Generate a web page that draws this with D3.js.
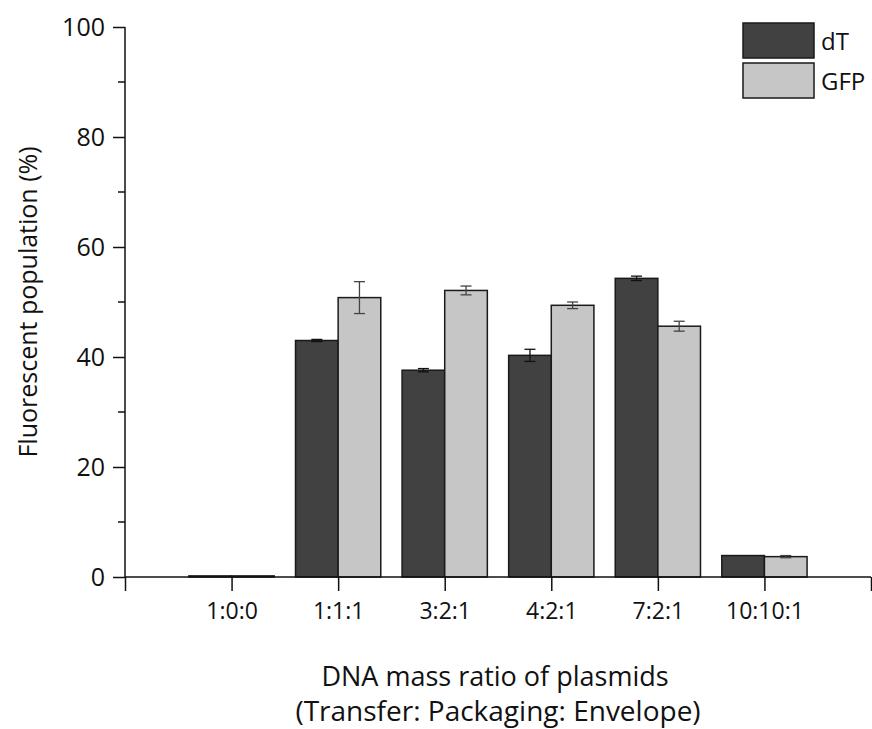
<!DOCTYPE html>
<html>
<head>
<meta charset="utf-8">
<script src="https://cdn.jsdelivr.net/npm/d3@7"></script>
<style>
  html, body { margin: 0; padding: 0; background: #fff; }
  svg text { font-family: "Open Sans", "Liberation Sans", sans-serif; fill: #111; }
</style>
</head>
<body>
<svg id="chart" width="872" height="729"></svg>
<script>
// Plasmid ratios tested (Transfer : Packaging : Envelope)
const categories = ["1:0:0", "1:1:1", "3:2:1", "4:2:1", "7:2:1", "10:10:1"];
const seriesNames = ["dT", "GFP"];
// Mean fluorescent population (%) and error for each series
const dTValues  = [0.2, 43.0, 37.6, 40.3, 54.3, 3.9];
const dTErrors  = [0.0, 0.2, 0.3, 1.1, 0.4, 0.0];
const gfpValues = [0.2, 50.8, 52.1, 49.4, 45.6, 3.7];
const gfpErrors = [0.0, 2.9, 0.8, 0.6, 0.9, 0.2];
const yTicks = [0, 20, 40, 60, 80, 100];
const yMinorTicks = [10, 30, 50, 70, 90];

const colors = { dT: "#414141", GFP: "#c6c6c6" };
const errColors = { dT: "#111", GFP: "#444" };

const svg = d3.select("#chart");
const plotLeft = 125, plotRight = 871, plotTop = 27, plotBottom = 577;

// category positions on a linear axis running 0..7 so groups sit on 1..6
const x = d3.scaleLinear().domain([0, categories.length + 1]).range([plotLeft, plotRight]);
const y = d3.scaleLinear().domain([0, 100]).range([plotBottom, plotTop]);
const barW = (x(1) - x(0)) * 0.4;

const series = [
  { name: "dT", values: dTValues, errors: dTErrors, offset: -1 },
  { name: "GFP", values: gfpValues, errors: gfpErrors, offset: 0 }
];

// bars
series.forEach(s => {
  const g = svg.append("g");
  g.selectAll("rect").data(s.values).join("rect")
    .attr("x", (d, i) => x(i + 1) + s.offset * barW)
    .attr("y", d => y(d))
    .attr("width", barW)
    .attr("height", d => y(0) - y(d))
    .attr("fill", colors[s.name])
    .attr("stroke", "#1a1a1a")
    .attr("stroke-width", 1.5);

  // error bars
  const eb = g.selectAll("g.err").data(s.values.map((v, i) => ({ v, e: s.errors[i], i })))
    .join("g").attr("class", "err")
    .filter(d => d.e > 0);
  const cx = d => x(d.i + 1) + s.offset * barW + barW / 2;
  eb.append("line")
    .attr("x1", cx).attr("x2", cx)
    .attr("y1", d => y(d.v + d.e)).attr("y2", d => y(d.v - d.e))
    .attr("stroke", errColors[s.name]).attr("stroke-width", 1.3);
  [1, -1].forEach(sign => {
    eb.append("line")
      .attr("x1", d => cx(d) - 5.5).attr("x2", d => cx(d) + 5.5)
      .attr("y1", d => y(d.v + sign * d.e)).attr("y2", d => y(d.v + sign * d.e))
      .attr("stroke", errColors[s.name]).attr("stroke-width", 1.3);
  });
});

// y axis with major and minor ticks
const yAxis = svg.append("g").attr("transform", `translate(${plotLeft},0)`)
  .call(d3.axisLeft(y).tickValues(yTicks).tickSize(12).tickPadding(8));
yAxis.append("g").selectAll("line").data(yMinorTicks).join("line")
  .attr("x1", -7).attr("x2", 0)
  .attr("y1", d => y(d)).attr("y2", d => y(d));
yAxis.select(".domain").attr("d", `M0,${plotTop}V${plotBottom}`);

// x axis, ticks below at category centres plus the ends
const xAxis = svg.append("g").attr("transform", `translate(0,${plotBottom})`)
  .call(d3.axisBottom(x).tickValues(d3.range(0, categories.length + 2)).tickSize(14).tickPadding(12)
    .tickFormat(d => (d >= 1 && d <= categories.length) ? categories[d - 1] : ""));
xAxis.select(".domain").attr("d", `M${plotLeft},0H${plotRight}`);

[yAxis, xAxis].forEach(a => {
  a.selectAll("path, line").attr("stroke", "#111").attr("stroke-width", 1.5);
  a.selectAll("text").style("font-family", "'Open Sans', sans-serif").attr("fill", "#111");
});
xAxis.selectAll("text").style("font-size", "23px");
yAxis.selectAll("text").style("font-size", "25px");

// axis titles
svg.append("text")
  .attr("transform", "translate(37,302) rotate(-90)")
  .attr("text-anchor", "middle")
  .style("font-size", "25px")
  .text("Fluorescent population (%)");
svg.append("text")
  .attr("x", 495).attr("y", 686)
  .attr("text-anchor", "middle").style("font-size", "27px")
  .text("DNA mass ratio of plasmids");
svg.append("text")
  .attr("x", 498).attr("y", 721)
  .attr("text-anchor", "middle").style("font-size", "28px")
  .text("(Transfer: Packaging: Envelope)");

// legend
const legend = svg.append("g").attr("transform", "translate(743,23)");
seriesNames.forEach((name, i) => {
  const row = legend.append("g").attr("transform", `translate(0,${i * 40})`);
  row.append("rect").attr("width", 71).attr("height", 35)
    .attr("fill", colors[name]).attr("stroke", "#1a1a1a").attr("stroke-width", 1.5);
  row.append("text").attr("x", 78).attr("y", 27).style("font-size", "24px").text(name);
});
</script>
</body>
</html>
